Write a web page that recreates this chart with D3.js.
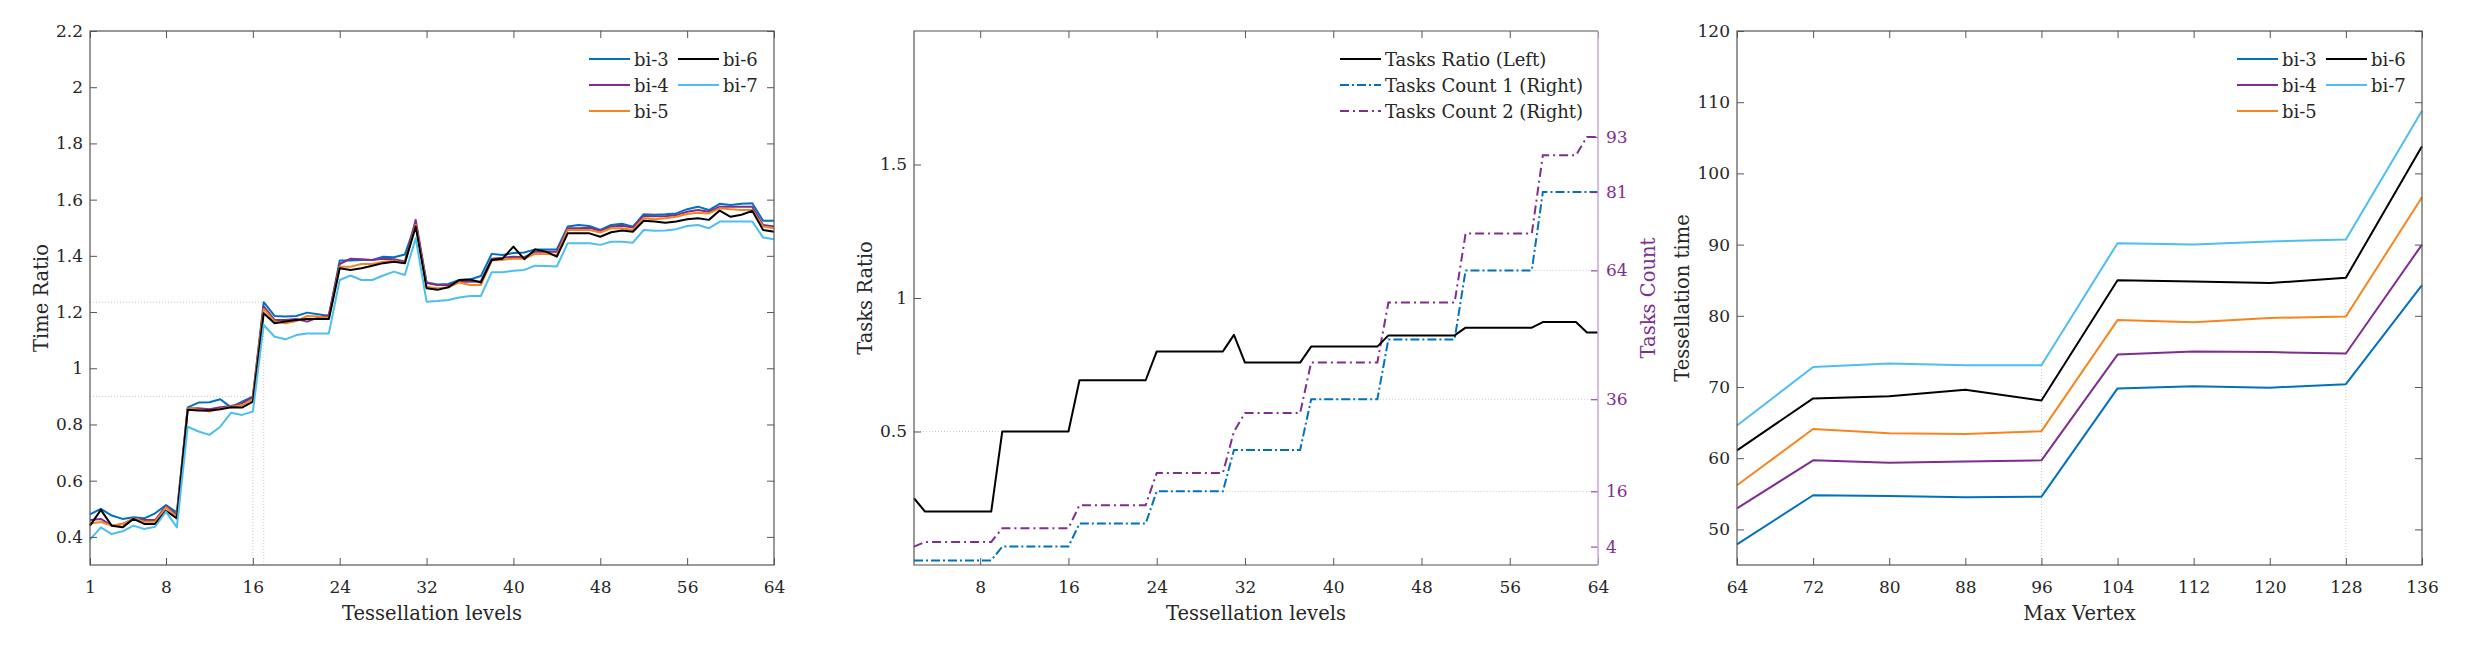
<!DOCTYPE html>
<html>
<head>
<meta charset="utf-8">
<script src="https://cdn.jsdelivr.net/npm/d3@7"></script>
<style>
  body { margin: 0; background: #fff; }
  text { font-family: "DejaVu Serif", serif; fill: #262626; }
</style>
</head>
<body>
<svg id="chart" width="2484" height="654"></svg>
<script>
// ---- data: panel 1 (time ratio per tessellation level) ----
var levels = d3.range(1, 65)
var bi3 = [0.48,0.50,0.476,0.464,0.47,0.466,0.484,0.513,0.487,0.861,0.878,0.879,0.89,0.861,0.881,0.899,
  1.235,1.186,1.184,1.186,1.198,1.192,1.186,1.383,1.383,1.385,1.385,1.397,1.395,1.405,1.515,1.305,
  1.298,1.30,1.314,1.316,1.328,1.407,1.403,1.41,1.412,1.423,1.423,1.423,1.504,1.51,1.506,1.492,
  1.51,1.514,1.504,1.548,1.546,1.548,1.551,1.566,1.575,1.563,1.585,1.581,1.585,1.587,1.525,1.525]
var bi4 = [0.46,0.464,0.44,0.446,0.463,0.46,0.46,0.51,0.478,0.857,0.858,0.854,0.861,0.866,0.875,0.897,
  1.22,1.172,1.172,1.175,1.166,1.18,1.19,1.371,1.39,1.388,1.385,1.39,1.388,1.38,1.528,1.303,
  1.296,1.296,1.308,1.308,1.31,1.39,1.393,1.397,1.395,1.415,1.415,1.415,1.498,1.498,1.5,1.489,
  1.504,1.507,1.501,1.542,1.541,1.541,1.545,1.557,1.563,1.557,1.575,1.575,1.575,1.575,1.51,1.504]
var bi5 = [0.448,0.453,0.44,0.446,0.466,0.454,0.454,0.505,0.472,0.857,0.852,0.846,0.856,0.863,0.868,0.89,
  1.211,1.166,1.16,1.168,1.186,1.184,1.178,1.361,1.361,1.371,1.371,1.379,1.383,1.374,1.51,1.29,
  1.285,1.288,1.305,1.296,1.296,1.383,1.386,1.39,1.39,1.407,1.407,1.403,1.492,1.492,1.492,1.483,
  1.498,1.498,1.492,1.534,1.53,1.534,1.539,1.549,1.553,1.551,1.569,1.566,1.563,1.563,1.504,1.498]
var bi6 = [0.44,0.496,0.44,0.434,0.464,0.446,0.446,0.493,0.466,0.852,0.85,0.85,0.854,0.861,0.86,0.881,
  1.196,1.16,1.166,1.172,1.175,1.175,1.175,1.356,1.35,1.356,1.365,1.374,1.379,1.374,1.504,1.285,
  1.279,1.288,1.314,1.316,1.305,1.385,1.39,1.433,1.388,1.423,1.415,1.397,1.48,1.48,1.48,1.468,
  1.484,1.49,1.486,1.525,1.522,1.518,1.522,1.53,1.534,1.528,1.561,1.539,1.546,1.56,1.492,1.486]
var bi7 = [0.39,0.434,0.41,0.42,0.44,0.428,0.436,0.49,0.434,0.792,0.775,0.763,0.792,0.842,0.834,0.846,
  1.154,1.112,1.103,1.118,1.124,1.124,1.124,1.314,1.33,1.314,1.314,1.33,1.344,1.332,1.463,1.237,
  1.239,1.243,1.252,1.257,1.257,1.342,1.342,1.347,1.35,1.365,1.364,1.362,1.445,1.445,1.445,1.439,
  1.45,1.45,1.447,1.492,1.489,1.49,1.495,1.506,1.51,1.498,1.522,1.522,1.522,1.522,1.465,1.459]
var xTicks1 = [1, 8, 16, 24, 32, 40, 48, 56, 64]
var yTicks1 = [0.4, 0.6, 0.8, 1, 1.2, 1.4, 1.6, 1.8, 2, 2.2]

// ---- data: panel 2 (tasks ratio and counts) ----
var levels2 = d3.range(2, 65)
var tasksRatio = [0.25,0.2,0.2,0.2,0.2,0.2,0.2,0.2,0.5,0.5,0.5,0.5,0.5,0.5,0.5,
  0.692,0.692,0.692,0.692,0.692,0.692,0.692,0.8,0.8,0.8,0.8,0.8,0.8,0.8,0.862,
  0.758,0.758,0.758,0.758,0.758,0.758,0.818,0.818,0.818,0.818,0.818,0.818,0.818,
  0.86,0.86,0.86,0.86,0.86,0.86,0.86,0.889,0.889,0.889,0.889,0.889,0.889,0.889,
  0.91,0.91,0.91,0.91,0.871,0.871]
var tasksCount1 = [1,1,1,1,1,1,1,1,4,4,4,4,4,4,4,9,9,9,9,9,9,9,16,16,16,16,16,16,16,
  25,25,25,25,25,25,25,36,36,36,36,36,36,36,49,49,49,49,49,49,49,64,64,64,64,64,64,64,
  81,81,81,81,81,81]
var tasksCount2 = [4,5,5,5,5,5,5,5,8,8,8,8,8,8,8,13,13,13,13,13,13,13,20,20,20,20,20,20,20,
  29,33,33,33,33,33,33,44,44,44,44,44,44,44,57,57,57,57,57,57,57,72,72,72,72,72,72,72,
  89,89,89,89,93,93]
var xTicks2 = [8, 16, 24, 32, 40, 48, 56, 64]
var yTicks2 = [0.5, 1, 1.5]
var countTicks = [4, 16, 36, 64, 81, 93]

// ---- data: panel 3 (tessellation time per max vertex) ----
var maxVertex = [64, 72, 80, 88, 96, 104, 112, 120, 128, 136]
var time3 = [47.9, 54.8, 54.7, 54.5, 54.6, 69.8, 70.1, 69.9, 70.4, 84.3]
var time4 = [52.95, 59.7, 59.35, 59.55, 59.7, 74.55, 75.0, 74.9, 74.7, 90.0]
var time5 = [56.2, 64.1, 63.5, 63.4, 63.8, 79.4, 79.1, 79.7, 79.9, 96.65]
var time6 = [61.1, 68.4, 68.7, 69.6, 68.1, 85.0, 84.8, 84.6, 85.35, 103.8]
var time7 = [64.6, 72.8, 73.3, 73.05, 73.05, 90.2, 90.0, 90.45, 90.7, 108.8]
var yTicks3 = [50, 60, 70, 80, 90, 100, 110, 120]

var seriesNames = ["bi-3", "bi-4", "bi-5", "bi-6", "bi-7"]
var colors = ["#0072BD", "#7E2F8E", "#F7851E", "#000000", "#4DBEEE"]

var svg = d3.select("#chart")
var top_ = 31, bottom = 565
var axisColor = "#555"
var purple = "#7E2F8E"

function box(g, x, y) {
  g.append("rect")
    .attr("x", x.range()[0]).attr("y", top_)
    .attr("width", x.range()[1] - x.range()[0]).attr("height", bottom - top_)
    .attr("fill", "none").attr("stroke", axisColor).attr("stroke-width", 1.2)
}

function styleAxis(sel) {
  sel.select(".domain").remove()
  sel.selectAll(".tick line").attr("stroke", axisColor)
  sel.selectAll(".tick text").attr("font-size", 17).attr("fill", "#262626")
}

function dotted(g, x1, y1, x2, y2) {
  g.append("line").attr("x1", x1).attr("y1", y1).attr("x2", x2).attr("y2", y2)
    .attr("stroke", "#c8c8c8").attr("stroke-width", 1).attr("stroke-dasharray", "1,2")
}

function legend(g, items, cols) {
  items.forEach(function(it, i) {
    var c = cols[it.col]
    var yy = 59 + it.row * 26
    g.append("line").attr("x1", c).attr("x2", c + 41).attr("y1", yy).attr("y2", yy)
      .attr("stroke", it.color).attr("stroke-width", 2)
      .attr("stroke-dasharray", it.dash || null)
    g.append("text").attr("x", c + 45).attr("y", yy + 7)
      .attr("font-size", 18).attr("fill", "#000").text(it.name)
  })
}

function yLabel(g, x, text, color) {
  g.append("text").attr("transform", "translate(" + x + "," + ((top_ + bottom) / 2) + ") rotate(-90)")
    .attr("text-anchor", "middle").attr("font-size", 19.5)
    .style("fill", color || "#262626").text(text)
}

function xLabel(g, x, text) {
  g.append("text").attr("x", (x.range()[0] + x.range()[1]) / 2).attr("y", 620)
    .attr("text-anchor", "middle").attr("font-size", 19.5).text(text)
}

// ================= panel 1 =================
var g1 = svg.append("g")
var x1 = d3.scaleLinear().domain([1, 64]).range([90, 774])
var y1 = d3.scaleLinear().domain([0.3, 2.2]).range([bottom, top_])

dotted(g1, x1(1), y1(bi3[16]), x1(17), y1(bi3[16]))
dotted(g1, x1(17), bottom, x1(17), y1(bi3[16]))
dotted(g1, x1(1), y1(bi3[15]), x1(16), y1(bi3[15]))
dotted(g1, x1(16), bottom, x1(16), y1(bi3[15]))

var line1 = d3.line().x(function(d, i) { return x1(levels[i]) }).y(function(d) { return y1(d) })
;[bi3, bi4, bi5, bi6, bi7].forEach(function(s, k) {
  g1.append("path").datum(s).attr("d", line1).attr("fill", "none")
    .attr("stroke", colors[k]).attr("stroke-width", 2).attr("stroke-linejoin", "round")
})

g1.append("g").attr("transform", "translate(0," + bottom + ")")
  .call(d3.axisBottom(x1).tickValues(xTicks1).tickSize(-7).tickPadding(16)).call(styleAxis)
g1.append("g").attr("transform", "translate(0," + top_ + ")")
  .call(d3.axisTop(x1).tickValues(xTicks1).tickSize(-7).tickFormat("")).call(styleAxis)
g1.append("g").attr("transform", "translate(90,0)")
  .call(d3.axisLeft(y1).tickValues(yTicks1).tickSize(-7).tickPadding(7).tickFormat(d3.format("~g"))).call(styleAxis)
g1.append("g").attr("transform", "translate(774,0)")
  .call(d3.axisRight(y1).tickValues(yTicks1).tickSize(-7).tickFormat("")).call(styleAxis)
box(g1, x1, y1)
legend(g1, [
  {name: "bi-3", color: colors[0], col: 0, row: 0},
  {name: "bi-4", color: colors[1], col: 0, row: 1},
  {name: "bi-5", color: colors[2], col: 0, row: 2},
  {name: "bi-6", color: colors[3], col: 1, row: 0},
  {name: "bi-7", color: colors[4], col: 1, row: 1}
], [589, 678])
yLabel(g1, 48, "Time Ratio")
xLabel(g1, x1, "Tessellation levels")

// ================= panel 2 =================
var g2 = svg.append("g")
var x2 = d3.scaleLinear().domain([2, 64]).range([914, 1598])
var y2 = d3.scaleLinear().domain([0, 2]).range([bottom, top_])
var y2r = d3.scaleLinear().domain([0, 116]).range([bottom, top_])

dotted(g2, x2(2), y2(0.5), x2(10), y2(0.5))
dotted(g2, x2(24), y2r(16), x2(64), y2r(16))
dotted(g2, x2(38), y2r(36), x2(64), y2r(36))
dotted(g2, x2(52), y2r(64), x2(64), y2r(64))

var lineR = d3.line().x(function(d, i) { return x2(levels2[i]) }).y(function(d) { return y2(d) })
var lineC = d3.line().x(function(d, i) { return x2(levels2[i]) }).y(function(d) { return y2r(d) })
g2.append("path").datum(tasksCount2).attr("d", lineC).attr("fill", "none")
  .attr("stroke", purple).attr("stroke-width", 2).attr("stroke-dasharray", "9,4,2,4")
g2.append("path").datum(tasksCount1).attr("d", lineC).attr("fill", "none")
  .attr("stroke", "#0072BD").attr("stroke-width", 2).attr("stroke-dasharray", "9,3,2,3")
g2.append("path").datum(tasksRatio).attr("d", lineR).attr("fill", "none")
  .attr("stroke", "#000").attr("stroke-width", 2).attr("stroke-linejoin", "round")

g2.append("g").attr("transform", "translate(0," + bottom + ")")
  .call(d3.axisBottom(x2).tickValues(xTicks2).tickSize(-7).tickPadding(16)).call(styleAxis)
g2.append("g").attr("transform", "translate(0," + top_ + ")")
  .call(d3.axisTop(x2).tickValues(xTicks2).tickSize(-7).tickFormat("")).call(styleAxis)
g2.append("g").attr("transform", "translate(914,0)")
  .call(d3.axisLeft(y2).tickValues(yTicks2).tickSize(-7).tickPadding(7).tickFormat(d3.format("~g"))).call(styleAxis)
// box without right side, right spine in purple
g2.append("path").attr("d", "M1598," + top_ + "H914V" + bottom + "H1598")
  .attr("fill", "none").attr("stroke", axisColor).attr("stroke-width", 1.2)
var rAx = g2.append("g").attr("transform", "translate(1598,0)")
  .call(d3.axisRight(y2r).tickValues(countTicks).tickSize(-7).tickPadding(8))
rAx.select(".domain").remove()
rAx.selectAll(".tick line").attr("stroke", purple)
rAx.selectAll(".tick text").attr("font-size", 17).style("fill", purple)
g2.append("line").attr("x1", 1598).attr("x2", 1598).attr("y1", top_).attr("y2", bottom)
  .attr("stroke", "#c7a6d8").attr("stroke-width", 1.5)
legend(g2, [
  {name: "Tasks Ratio (Left)", color: "#000", col: 0, row: 0},
  {name: "Tasks Count 1 (Right)", color: "#0072BD", col: 0, row: 1, dash: "9,3,2,3"},
  {name: "Tasks Count 2 (Right)", color: purple, col: 0, row: 2, dash: "9,4,2,4"}
], [1340])
yLabel(g2, 872, "Tasks Ratio")
yLabel(g2, 1655, "Tasks Count", purple)
xLabel(g2, x2, "Tessellation levels")

// ================= panel 3 =================
var g3 = svg.append("g")
var x3 = d3.scaleLinear().domain([64, 136]).range([1737, 2422])
var y3 = d3.scaleLinear().domain([45, 120]).range([bottom, top_])

dotted(g3, x3(96), bottom, x3(96), y3(time7[4]))
dotted(g3, x3(128), bottom, x3(128), y3(time7[8]))

var line3 = d3.line().x(function(d, i) { return x3(maxVertex[i]) }).y(function(d) { return y3(d) })
;[time3, time4, time5, time6, time7].forEach(function(s, k) {
  g3.append("path").datum(s).attr("d", line3).attr("fill", "none")
    .attr("stroke", colors[k]).attr("stroke-width", 2).attr("stroke-linejoin", "round")
})

g3.append("g").attr("transform", "translate(0," + bottom + ")")
  .call(d3.axisBottom(x3).tickValues(maxVertex).tickSize(-7).tickPadding(16)).call(styleAxis)
g3.append("g").attr("transform", "translate(0," + top_ + ")")
  .call(d3.axisTop(x3).tickValues(maxVertex).tickSize(-7).tickFormat("")).call(styleAxis)
g3.append("g").attr("transform", "translate(1737,0)")
  .call(d3.axisLeft(y3).tickValues(yTicks3).tickSize(-7).tickPadding(7)).call(styleAxis)
g3.append("g").attr("transform", "translate(2422,0)")
  .call(d3.axisRight(y3).tickValues(yTicks3).tickSize(-7).tickFormat("")).call(styleAxis)
box(g3, x3, y3)
legend(g3, [
  {name: "bi-3", color: colors[0], col: 0, row: 0},
  {name: "bi-4", color: colors[1], col: 0, row: 1},
  {name: "bi-5", color: colors[2], col: 0, row: 2},
  {name: "bi-6", color: colors[3], col: 1, row: 0},
  {name: "bi-7", color: colors[4], col: 1, row: 1}
], [2237, 2326])
yLabel(g3, 1689, "Tessellation time")
xLabel(g3, x3, "Max Vertex")
</script>
</body>
</html>
